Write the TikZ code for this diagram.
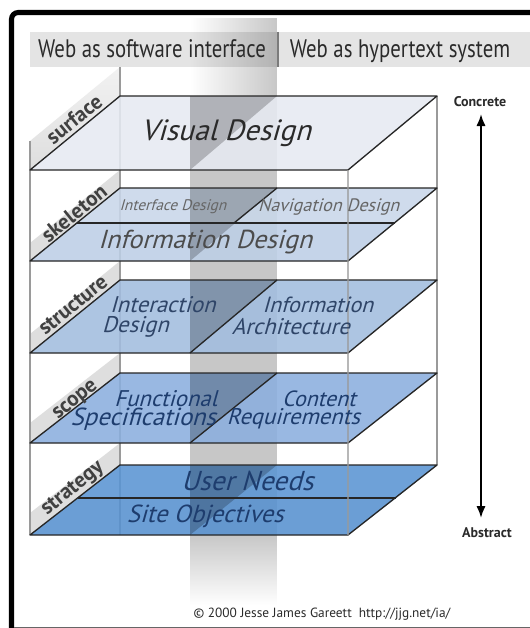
\documentclass[tikz,border=0pt]{standalone}
\usepackage{fontspec}
\setmainfont{PT Sans}
\newfontfamily\hdrfont[FakeStretch=0.82]{PT Sans}
\newfontfamily\lblfont{PT Sans}
\usetikzlibrary{arrows.meta,fadings}
\definecolor{hdrgray}{HTML}{E4E4E4}
\definecolor{tabgray}{HTML}{DEDEDE}
\definecolor{edgegray}{HTML}{9A9A9A}
\definecolor{surfC}{HTML}{E6EAF2}
\definecolor{skelA}{HTML}{C9D7EA}
\definecolor{skelB}{HTML}{BDCFE6}
\definecolor{strucC}{HTML}{A2BDDF}
\definecolor{scopeC}{HTML}{8BAFDE}
\definecolor{stratA}{HTML}{5A95D3}
\definecolor{stratB}{HTML}{5791D0}
\definecolor{txtgray}{HTML}{2A2A2A}
\definecolor{txtnavy}{HTML}{1E3D6E}
\definecolor{txtslate}{HTML}{2F4568}
\tikzfading[name=fadeR, left color=transparent!100, right color=transparent!0]
\tikzfading[name=fadeD, top color=transparent!0, bottom color=transparent!100]
\tikzset{
  layeredge/.style={draw=black!85, line width=1pt, line join=round},
  boxedge/.style={draw=edgegray, line width=0.9pt},
  tabfill/.style={fill=tabgray},
  tablabel/.style={font=\lblfont\bfseries\fontsize{16}{16}\selectfont, text=black!75, rotate=39.1, inner sep=0pt},
  ltxt/.style={font=\lblfont\fontsize{#1}{#1}\selectfont, xslant=0.28, inner sep=0pt},
  colshade/.style={fill=black, opacity=0.22},
  hdrtxt/.style={font=\hdrfont\fontsize{19}{19}\selectfont, text=txtgray, anchor=base, inner sep=0pt},
}
\begin{document}
\begin{tikzpicture}[x=0.75pt,y=-0.75pt]
\useasboundingbox (0,0) rectangle (530,628);
\fill[white] (0,0) rectangle (530,628);
% header band
\fill[hdrgray] (30,32) rectangle (530,67);
% tabs
\shade[top color=tabgray!40, bottom color=tabgray] (30,170) -- (120,96) -- (120,67) -- (30,141) -- cycle;
\fill[tabfill] (30,261) -- (120,188) -- (120,170) -- (30,243) -- cycle;
\fill[tabfill] (30,353) -- (120,280) -- (120,261) -- (30,334) -- cycle;
\fill[tabfill] (30,443) -- (120,373) -- (120,353) -- (30,423) -- cycle;
\fill[tabfill] (30,535) -- (120,465) -- (120,443) -- (30,513) -- cycle;
% back edges of the box
\draw[boxedge] (120,67) -- (120,535);
\draw[boxedge] (437,96) -- (437,465);
\draw[boxedge] (30,141) -- (30,535);
% translucent wall (column)
\fill[black, opacity=0.22, path fading=fadeR] (190,18) rectangle (277,96);
\fill[colshade] (190,96) rectangle (277,535);
\fill[black, opacity=0.22, path fading=fadeD] (190,535) rectangle (277,605);
% layers
\fill[surfC, fill opacity=0.88] (30,170) -- (348,170) -- (437,96) -- (120,96) -- cycle;
\fill[skelA, fill opacity=0.88] (77,223) -- (395,223) -- (437,188) -- (120,188) -- cycle;
\fill[skelB, fill opacity=0.88] (30,261) -- (348,261) -- (395,223) -- (77,223) -- cycle;
\fill[strucC, fill opacity=0.88] (30,353) -- (348,353) -- (437,280) -- (120,280) -- cycle;
\fill[scopeC, fill opacity=0.88] (30,443) -- (348,443) -- (437,373) -- (120,373) -- cycle;
\fill[stratA, fill opacity=0.88] (78,498) -- (396,498) -- (437,465) -- (120,465) -- cycle;
\fill[stratB, fill opacity=0.88] (30,535) -- (348,535) -- (396,498) -- (78,498) -- cycle;
% wall above layers (darker triangles)
\fill[colshade] (190,96) -- (277,96) -- (190,170) -- cycle;
\fill[colshade] (190,188) -- (277,188) -- (190,261) -- cycle;
\fill[colshade] (190,280) -- (277,280) -- (190,353) -- cycle;
\fill[colshade] (190,373) -- (277,373) -- (190,443) -- cycle;
\fill[colshade] (190,465) -- (277,465) -- (190,535) -- cycle;
% layer outlines
\draw[layeredge] (30,170) -- (348,170) -- (437,96) -- (120,96) -- cycle;
\draw[layeredge] (30,261) -- (348,261) -- (437,188) -- (120,188) -- cycle;
\draw[layeredge] (77,223) -- (395,223);
\draw[layeredge] (234,223) -- (277,188);
\draw[layeredge] (30,353) -- (348,353) -- (437,280) -- (120,280) -- cycle;
\draw[layeredge] (190,353) -- (277,280);
\draw[layeredge] (30,443) -- (348,443) -- (437,373) -- (120,373) -- cycle;
\draw[layeredge] (190,443) -- (277,373);
\draw[layeredge] (30,535) -- (348,535) -- (437,465) -- (120,465) -- cycle;
\draw[layeredge] (78,498) -- (396,498);
% front right edge of the box
\draw[boxedge, opacity=0.7] (348,170) -- (348,535);
% header texts
\node[hdrtxt] (hleft) at (152,57) {Web as software interface};
\node[hdrtxt] (hright) at (400,57) {Web as hypertext system};
\draw[edgegray!80!black, line width=0.8pt] (278,32) -- (278,67);
% tab labels
\node[tablabel] (lsurf) at (74,119) {surface};
\node[tablabel] (lskel) at (74,213) {skeleton};
\node[tablabel] (lstruc) at (73,305) {structure};
\node[tablabel] (lscope) at (76,401) {scope};
\node[tablabel] (lstrat) at (73,489) {strategy};
% layer texts
\node[ltxt=22, text=txtgray] (visual) at (228,133) {Visual Design};
\node[ltxt=11.5, text=black!60] (iface) at (174,207) {Interface Design};
\node[ltxt=13.5, text=black!60] (navig) at (330,207) {Navigation Design};
\node[ltxt=19.5, text=black!70] (infod) at (207,242) {Information Design};
\node[ltxt=17, text=txtslate] (inter1) at (165,305) {Interaction};
\node[ltxt=17, text=txtslate] (inter2) at (137,327) {Design};
\node[ltxt=16.5, text=txtslate] (ia1) at (320,305) {Information};
\node[ltxt=17, text=txtslate] (ia2) at (293,327) {Architecture};
\node[ltxt=17, text=txtnavy] (func1) at (168,399) {Functional};
\node[ltxt=18.5, text=txtnavy] (func2) at (145,419) {Specifications};
\node[ltxt=16.5, text=txtnavy] (cont1) at (321,399) {Content};
\node[ltxt=17, text=txtnavy] (cont2) at (295,419) {Requirements};
\node[ltxt=20.5, text=txtnavy] (user) at (250,481) {User Needs};
\node[ltxt=18.5, text=txtnavy] (site) at (207,516) {Site Objectives};
% concrete / abstract axis
\node[font=\bfseries\fontsize{10.5}{11}\selectfont, text=txtgray, inner sep=0pt] (concrete) at (480,102) {Concrete};
\node[font=\bfseries\fontsize{10.5}{11}\selectfont, text=txtgray, inner sep=0pt] (abstract) at (487,533) {Abstract};
\coordinate (atop) at (481,114);
\coordinate (abot) at (481,518);
\draw[line width=1.5pt, {Latex[length=9pt,width=7pt]}-{Latex[length=9pt,width=7pt]}] (atop) -- (abot);
% copyright
\node[font=\fontsize{10}{10}\selectfont, text=txtgray, inner sep=0pt] (copy) at (322,614) {\char"00A9\ 2000 Jesse James Gareett\ \ http://jjg.net/ia/};
% frame
\draw[black, line width=3.8pt, rounded corners=5pt] (11.5,630) -- (11.5,12.5) -- (532,12.5);
\draw[black!60, line width=0.9pt] (14,627.5) -- (530,627.5);
\end{tikzpicture}
\end{document}
